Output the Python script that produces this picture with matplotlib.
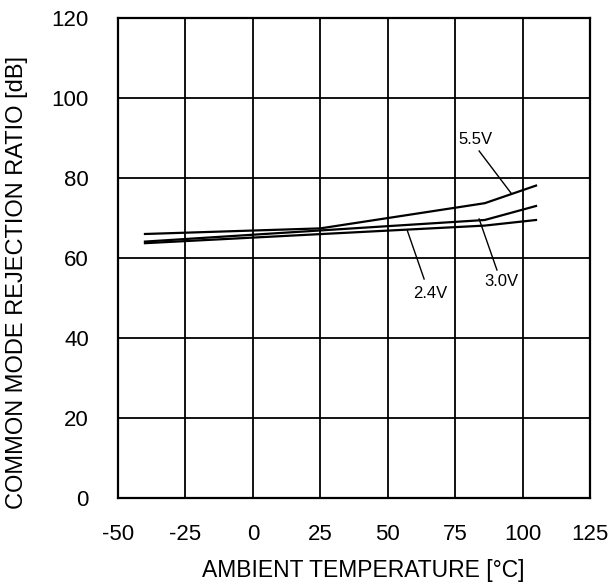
import matplotlib
matplotlib.use("Agg")
import matplotlib.pyplot as plt

plt.rcParams['font.family'] = ['Liberation Sans', 'DejaVu Sans']
plt.rcParams['axes.unicode_minus'] = False

temp_55 = [-40, 25, 86, 105]
cmrr_55 = [66.0, 67.4, 73.7, 78.1]
temp_30 = [-40, 86, 105]
cmrr_30 = [64.1, 69.5, 73.0]
temp_24 = [-40, 86, 105]
cmrr_24 = [63.7, 68.1, 69.5]

x_ticks = [-50, -25, 0, 25, 50, 75, 100, 125]
y_ticks = [0, 20, 40, 60, 80, 100, 120]

fig = plt.figure(figsize=(6.11, 5.86), dpi=100)
ax = fig.add_axes([0.1931, 0.1502, 0.7725, 0.8191])

for t, c in [(temp_55, cmrr_55), (temp_30, cmrr_30), (temp_24, cmrr_24)]:
    ax.plot(t, c, color='black', lw=1.6)

ax.set_xlim(-50, 125)
ax.set_ylim(0, 120)
ax.set_xticks(x_ticks)
ax.set_yticks(y_ticks)
ax.grid(True, color='black', lw=1.3)
ax.tick_params(axis='both', length=0, labelsize=16)
ax.tick_params(axis='x', pad=19)
ax.tick_params(axis='y', pad=21)
for s in ax.spines.values():
    s.set_linewidth(1.6)
    s.set_color('black')

fig.text(363 / 611, 1 - 570 / 586, 'AMBIENT TEMPERATURE [°C]', fontsize=16.5,
         ha='center', va='center')
fig.text(17 / 611, 1 - 282 / 586, 'COMMON MODE REJECTION RATIO [dB]', fontsize=17,
         ha='center', va='center', rotation=90)

labels = [
    ('5.5V', (82.7, 89.5), (83.9, 86.75), (95.7, 76.25)),
    ('3.0V', (92.0, 54.0), (90.5, 57.0), (83.9, 69.75)),
    ('2.4V', (65.7, 51.0), (63.5, 54.75), (57.2, 67.0)),
]
for txt, tpos, p0, p1 in labels:
    ax.text(tpos[0], tpos[1], txt, fontsize=12, ha='center', va='center')
    ax.plot([p0[0], p1[0]], [p0[1], p1[1]], color='black', lw=1.0)

fig.savefig('out.png', dpi=100)
